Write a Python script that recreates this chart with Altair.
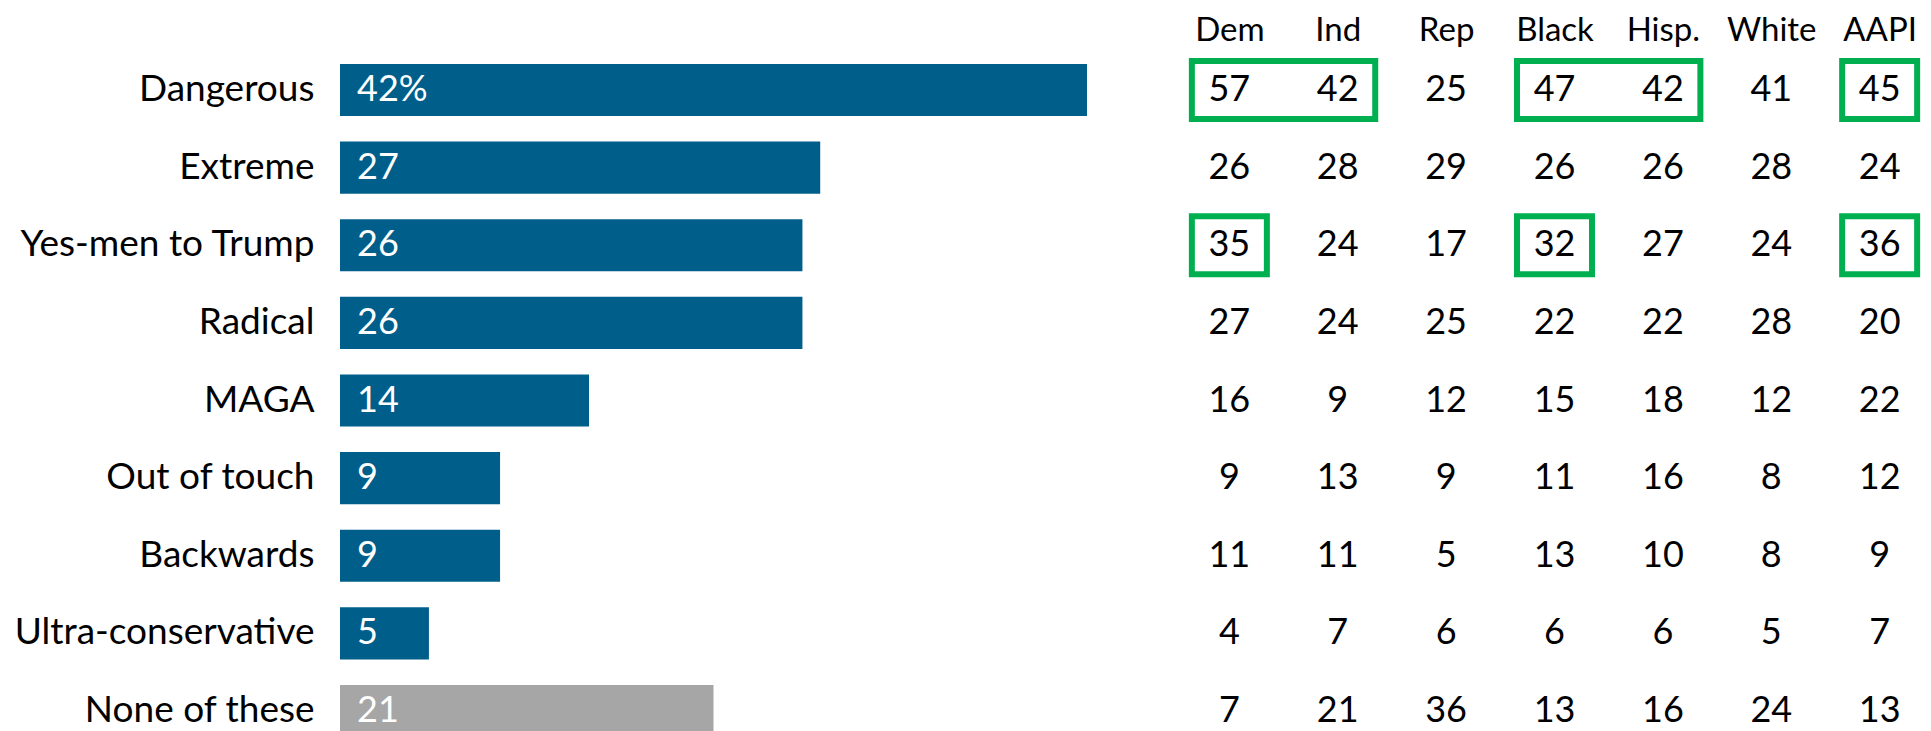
import json
import altair as alt
import pandas as pd

# ---------------- data ----------------
categories = ["Dangerous", "Extreme", "Yes-men to Trump", "Radical", "MAGA",
              "Out of touch", "Backwards", "Ultra-conservative", "None of these"]
total = [42, 27, 26, 26, 14, 9, 9, 5, 21]

groups = ["Dem", "Ind", "Rep", "Black", "Hisp.", "White", "AAPI"]
dem = [57, 26, 35, 27, 16, 9, 11, 4, 7]
ind = [42, 28, 24, 24, 9, 13, 11, 7, 21]
rep = [25, 29, 17, 25, 12, 9, 5, 6, 36]
black = [47, 26, 32, 22, 15, 11, 13, 6, 13]
hisp = [42, 26, 27, 22, 18, 16, 10, 6, 16]
white = [41, 28, 24, 28, 12, 8, 8, 5, 24]
aapi = [45, 24, 36, 20, 22, 12, 9, 7, 13]
group_values = [dem, ind, rep, black, hisp, white, aapi]

# highlighted cells: (row, first group, last group)
highlights = [
    ("Dangerous", "Dem", "Ind"),
    ("Dangerous", "Black", "Hisp."),
    ("Dangerous", "AAPI", "AAPI"),
    ("Yes-men to Trump", "Dem", "Dem"),
    ("Yes-men to Trump", "Black", "Black"),
    ("Yes-men to Trump", "AAPI", "AAPI"),
]

# ---------------- styles ----------------
BLUE = "#005E8A"
GREY = "#A6A6A6"
GREEN = "#00B050"
FONT = "Lato"
BOX_HALF = 0.346

# ---------------- tables ----------------
bars_df = pd.DataFrame({
    "answer": categories,
    "pct": total,
    "label": [f"{v}%" if i == 0 else str(v) for i, v in enumerate(total)],
    "kind": ["none" if c == "None of these" else "word" for c in categories],
})

rows = []
for gi, (g, vals) in enumerate(zip(groups, group_values)):
    for c, v in zip(categories, vals):
        rows.append({"answer": c, "col": gi, "group": g, "value": str(v)})
table_df = pd.DataFrame(rows)

hl_df = pd.DataFrame([
    {"answer": r, "x0": groups.index(a) - BOX_HALF, "x1": groups.index(b) + BOX_HALF}
    for r, a, b in highlights
])

y_scale = alt.Scale(domain=categories, paddingInner=0.33, paddingOuter=0)

# ---------------- left: bars ----------------
y_left = alt.Y("answer:N", sort=categories, scale=y_scale, title=None,
               axis=alt.Axis(labelFontSize=37, labelColor="black", labelPadding=26,
                             labelLimit=600, ticks=False, domain=False, grid=False,
                             labelFont=FONT))
x_bar = alt.X("pct:Q", scale=alt.Scale(domain=[0, 42], nice=False, zero=True), axis=None)

bars = alt.Chart(bars_df).mark_bar().encode(
    x=x_bar,
    y=y_left,
    color=alt.Color("kind:N", scale=alt.Scale(domain=["word", "none"], range=[BLUE, GREY]),
                    legend=None),
)
bar_text = alt.Chart(bars_df).mark_text(
    align="left", baseline="middle", dx=17, color="white", fontSize=36, font=FONT
).encode(
    x=alt.datum(0),
    y=y_left,
    text="label:N",
)
left = alt.layer(bars, bar_text).properties(width=747, height=673)

# ---------------- right: table ----------------
label_expr = json.dumps(groups) + "[datum.value]"
x_tab_scale = alt.Scale(domain=[-0.4, 6.4], nice=False, zero=False)
x_axis = alt.Axis(orient="top", values=list(range(len(groups))), labelExpr=label_expr,
                  labelFontSize=33, labelColor="black", labelPadding=17, labelFont=FONT,
                  ticks=False, domain=False, grid=False, title=None)
y_right = alt.Y("answer:N", sort=categories, scale=y_scale, axis=None)

boxes = alt.Chart(hl_df).mark_rect(
    fillOpacity=0, stroke=GREEN, strokeWidth=6, height=58
).encode(
    x=alt.X("x0:Q", scale=x_tab_scale, axis=x_axis),
    x2="x1:Q",
    y=y_right,
)
cells = alt.Chart(table_df).mark_text(
    fontSize=36, color="black", font=FONT, align="center", baseline="middle"
).encode(
    x=alt.X("col:Q", scale=x_tab_scale, axis=x_axis),
    y=y_right,
    text="value:N",
)
table = alt.layer(boxes, cells).properties(width=737, height=673)

chart = alt.hconcat(left, table, spacing=99, bounds="flush").properties(
    padding={"left": 6, "top": 6, "right": 0, "bottom": 0}
).configure(font=FONT).configure_view(strokeWidth=0)

chart.save("out.html", embed_options={"renderer": "svg", "actions": False})
